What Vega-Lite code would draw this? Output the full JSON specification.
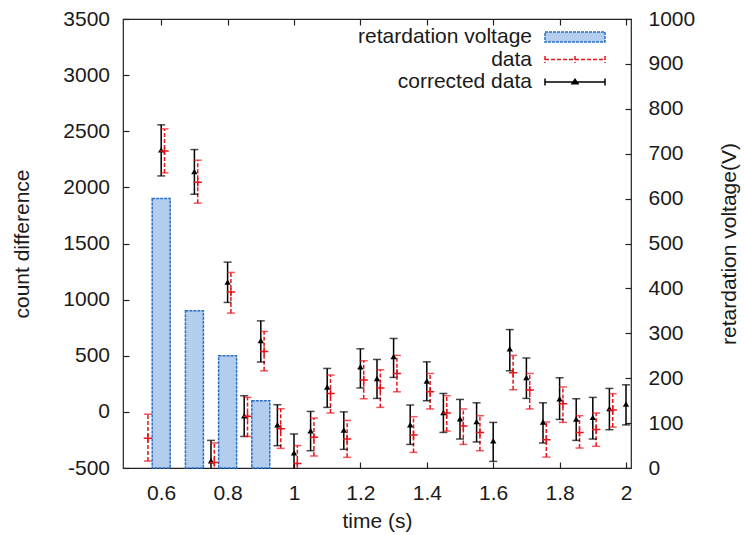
{
  "$schema": "https://vega.github.io/schema/vega-lite/v6.json",
  "width": 508,
  "height": 449,
  "autosize": "none",
  "padding": {"left": 123, "top": 19, "right": 113, "bottom": 67},
  "background": "white",
  "config": {
    "font": "Liberation Sans",
    "view": {"stroke": "#222", "strokeWidth": 1.2},
    "axis": {
      "labelFont": "Liberation Sans",
      "titleFont": "Liberation Sans",
      "labelFontSize": 21,
      "titleFontSize": 21,
      "titleFontWeight": "normal",
      "labelColor": "#1a1a1a",
      "titleColor": "#1a1a1a",
      "tickColor": "#222",
      "tickWidth": 1.2,
      "tickSize": -6,
      "domain": false,
      "grid": false
    },
    "legend": {"labelFont": "Liberation Sans"}
  },
  "datasets": {
    "bars": [
      {"t": 0.6, "V": 600, "series": "retardation voltage"},
      {"t": 0.7, "V": 350, "series": "retardation voltage"},
      {"t": 0.8, "V": 250, "series": "retardation voltage"},
      {"t": 0.9, "V": 150, "series": "retardation voltage"}
    ],
    "pts": [
      {"series": "corrected data", "t": 0.6, "v": 2334, "lo": 2102, "hi": 2557},
      {"series": "corrected data", "t": 0.7, "v": 2141, "lo": 1939, "hi": 2337},
      {"series": "corrected data", "t": 0.75, "v": -435, "lo": -620, "hi": -254},
      {"series": "corrected data", "t": 0.8, "v": 1156, "lo": 975, "hi": 1334},
      {"series": "corrected data", "t": 0.85, "v": -34, "lo": -219, "hi": 144},
      {"series": "corrected data", "t": 0.9, "v": 636, "lo": 444, "hi": 811},
      {"series": "corrected data", "t": 0.95, "v": -114, "lo": -301, "hi": 64},
      {"series": "corrected data", "t": 1.0, "v": -365, "lo": -540, "hi": -197},
      {"series": "corrected data", "t": 1.05, "v": -168, "lo": -346, "hi": 4},
      {"series": "corrected data", "t": 1.1, "v": 222, "lo": 40, "hi": 387},
      {"series": "corrected data", "t": 1.15, "v": -162, "lo": -334, "hi": 0},
      {"series": "corrected data", "t": 1.2, "v": 402, "lo": 213, "hi": 562},
      {"series": "corrected data", "t": 1.25, "v": 298, "lo": 120, "hi": 467},
      {"series": "corrected data", "t": 1.3, "v": 494, "lo": 307, "hi": 654},
      {"series": "corrected data", "t": 1.35, "v": -114, "lo": -290, "hi": 61},
      {"series": "corrected data", "t": 1.4, "v": 275, "lo": 99, "hi": 446},
      {"series": "corrected data", "t": 1.45, "v": -5, "lo": -183, "hi": 164},
      {"series": "corrected data", "t": 1.5, "v": -61, "lo": -242, "hi": 111},
      {"series": "corrected data", "t": 1.55, "v": -85, "lo": -268, "hi": 81},
      {"series": "corrected data", "t": 1.6, "v": -257, "lo": -441, "hi": -94},
      {"series": "corrected data", "t": 1.65, "v": 562, "lo": 366, "hi": 733},
      {"series": "corrected data", "t": 1.7, "v": 307, "lo": 120, "hi": 480},
      {"series": "corrected data", "t": 1.75, "v": -90, "lo": -277, "hi": 81},
      {"series": "corrected data", "t": 1.8, "v": 117, "lo": -67, "hi": 304},
      {"series": "corrected data", "t": 1.85, "v": -64, "lo": -254, "hi": 117},
      {"series": "corrected data", "t": 1.9, "v": -49, "lo": -242, "hi": 129},
      {"series": "corrected data", "t": 1.95, "v": 31, "lo": -159, "hi": 209},
      {"series": "corrected data", "t": 2.0, "v": 70, "lo": -116, "hi": 241},
      {"series": "data", "t": 0.56, "v": -235, "lo": -438, "hi": -21},
      {"series": "data", "t": 0.61, "v": 2325, "lo": 2129, "hi": 2521},
      {"series": "data", "t": 0.71, "v": 2046, "lo": 1859, "hi": 2242},
      {"series": "data", "t": 0.76, "v": -450, "lo": -640, "hi": -277},
      {"series": "data", "t": 0.81, "v": 1067, "lo": 880, "hi": 1242},
      {"series": "data", "t": 0.86, "v": -40, "lo": -219, "hi": 129},
      {"series": "data", "t": 0.91, "v": 538, "lo": 366, "hi": 716},
      {"series": "data", "t": 0.96, "v": -150, "lo": -325, "hi": 28},
      {"series": "data", "t": 1.01, "v": -460, "lo": -640, "hi": -300},
      {"series": "data", "t": 1.06, "v": -227, "lo": -393, "hi": -55},
      {"series": "data", "t": 1.11, "v": 164, "lo": -10, "hi": 328},
      {"series": "data", "t": 1.16, "v": -242, "lo": -405, "hi": -76},
      {"series": "data", "t": 1.21, "v": 284, "lo": 117, "hi": 455},
      {"series": "data", "t": 1.26, "v": 213, "lo": 40, "hi": 375},
      {"series": "data", "t": 1.31, "v": 342, "lo": 179, "hi": 503},
      {"series": "data", "t": 1.36, "v": -206, "lo": -361, "hi": -43},
      {"series": "data", "t": 1.41, "v": 179, "lo": 26, "hi": 342},
      {"series": "data", "t": 1.46, "v": -10, "lo": -171, "hi": 144},
      {"series": "data", "t": 1.51, "v": -126, "lo": -290, "hi": 26},
      {"series": "data", "t": 1.56, "v": -183, "lo": -346, "hi": -34},
      {"series": "data", "t": 1.66, "v": 348, "lo": 197, "hi": 503},
      {"series": "data", "t": 1.71, "v": 194, "lo": 26, "hi": 342},
      {"series": "data", "t": 1.76, "v": -248, "lo": -403, "hi": -90},
      {"series": "data", "t": 1.81, "v": 73, "lo": -94, "hi": 222},
      {"series": "data", "t": 1.86, "v": -183, "lo": -322, "hi": -34},
      {"series": "data", "t": 1.91, "v": -156, "lo": -307, "hi": -10},
      {"series": "data", "t": 1.96, "v": 17, "lo": -135, "hi": 162}
    ]
  },
  "layer": [
    {
      "data": {"name": "bars"},
      "mark": {"type": "bar", "size": 18, "fill": "#b3cdee", "stroke": "#2b6fc2", "strokeWidth": 1.5, "strokeDash": [3, 1]},
      "encoding": {
        "x": {
          "field": "t", "type": "quantitative",
          "scale": {"domain": [0.5, 2], "nice": false, "zero": false},
          "axis": {"orient": "top", "values": [0.6, 0.8, 1, 1.2, 1.4, 1.6, 1.8, 2], "labels": false, "title": null}
        },
        "y": {
          "field": "V", "type": "quantitative",
          "scale": {"domain": [0, 1000], "nice": false},
          "axis": {
            "orient": "right",
            "values": [0, 100, 200, 300, 400, 500, 600, 700, 800, 900, 1000],
            "labelExpr": "'' + datum.value",
            "labelPadding": 23,
            "title": "retardation voltage(V)",
            "titleAngle": -90,
            "titlePadding": 45
          }
        }
      }
    },
    {
      "data": {"name": "bars"},
      "transform": [{"filter": "datum.V < 0"}],
      "mark": {"type": "point", "size": 100, "strokeWidth": 1.5, "opacity": 1},
      "encoding": {
        "stroke": {
          "field": "series", "type": "nominal",
          "scale": {"domain": ["retardation voltage", "data", "corrected data"], "range": ["#2b6fc2", "#e8141b", "#000000"]},
          "legend": {
            "orient": "none",
            "legendX": 441.5,
            "legendY": 7.5,
            "title": null,
            "padding": 0,
            "labelFontSize": 21,
            "labelColor": "#1a1a1a",
            "labelAlign": "right",
            "labelOffset": -53.5,
            "labelLimit": 400,
            "symbolSize": 100,
            "symbolStrokeWidth": 1.5,
            "symbolOpacity": 1,
            "rowPadding": 0.5
          }
        },
        "shape": {
          "field": "series", "type": "nominal",
          "scale": {"domain": ["retardation voltage", "data", "corrected data"], "range": ["M-6,-1H6V1H-6Z", "M-6,0H6M-6,-0.7V0.7M6,-0.7V0.7M0,-0.7V0.7", "M-6,0H6M-6,-0.7V0.7M6,-0.7V0.7M-0.6,0.35L0,-0.55L0.6,0.35Z"]},
          "legend": {"title": null}
        },
        "fill": {
          "field": "series", "type": "nominal",
          "scale": {"domain": ["retardation voltage", "data", "corrected data"], "range": ["#b3cdee", "transparent", "#000000"]},
          "legend": {"title": null}
        },
        "strokeDash": {
          "field": "series", "type": "nominal",
          "scale": {"domain": ["retardation voltage", "data", "corrected data"], "range": [[3, 1], [4, 2], [1, 0]]},
          "legend": {"title": null}
        }
      }
    },
    {
      "data": {"name": "pts"},
      "encoding": {
        "x": {
          "field": "t", "type": "quantitative",
          "scale": {"domain": [0.5, 2], "nice": false, "zero": false},
          "axis": {"orient": "bottom", "values": [0.6, 0.8, 1, 1.2, 1.4, 1.6, 1.8, 2], "format": "~g", "labelPadding": 20, "title": "time (s)", "titlePadding": 7}
        },
        "color": {"field": "series", "type": "nominal", "scale": {"domain": ["data", "corrected data"], "range": ["#e8141b", "#000000"]}, "legend": null}
      },
      "layer": [
        {
          "mark": {"type": "rule", "clip": true, "strokeWidth": 1.5},
          "encoding": {
            "y": {
              "field": "lo", "type": "quantitative",
              "scale": {"domain": [-500, 3500], "nice": false, "zero": false},
              "axis": {"orient": "left", "values": [-500, 0, 500, 1000, 1500, 2000, 2500, 3000, 3500], "labelExpr": "'' + datum.value", "labelPadding": 19.5, "title": "count difference", "titlePadding": 30}
            },
            "y2": {"field": "hi"},
            "strokeDash": {"condition": {"test": "datum.series === 'data'", "value": [4, 2]}, "value": [1, 0]}
          }
        },
        {
          "mark": {"type": "tick", "orient": "horizontal", "clip": true, "size": 8, "thickness": 1.5},
          "encoding": {
            "y": {"field": "lo", "type": "quantitative"}
          }
        },
        {
          "mark": {"type": "tick", "orient": "horizontal", "clip": true, "size": 8, "thickness": 1.5},
          "encoding": {
            "y": {"field": "hi", "type": "quantitative"}
          }
        },
        {
          "transform": [{"filter": "datum.series === 'corrected data'"}],
          "mark": {"type": "point", "shape": "triangle-up", "filled": true, "size": 40, "clip": true, "opacity": 1},
          "encoding": {
            "y": {"field": "v", "type": "quantitative"}
          }
        },
        {
          "transform": [{"filter": "datum.series === 'data'"}],
          "mark": {"type": "point", "shape": "M-1,0H1M0,-1V1", "filled": false, "size": 70, "strokeWidth": 1.5, "clip": true, "opacity": 1},
          "encoding": {
            "y": {"field": "v", "type": "quantitative"}
          }
        }
      ]
    }
  ],
  "resolve": {"scale": {"y": "independent"}, "axis": {"x": "independent", "y": "independent"}}
}
